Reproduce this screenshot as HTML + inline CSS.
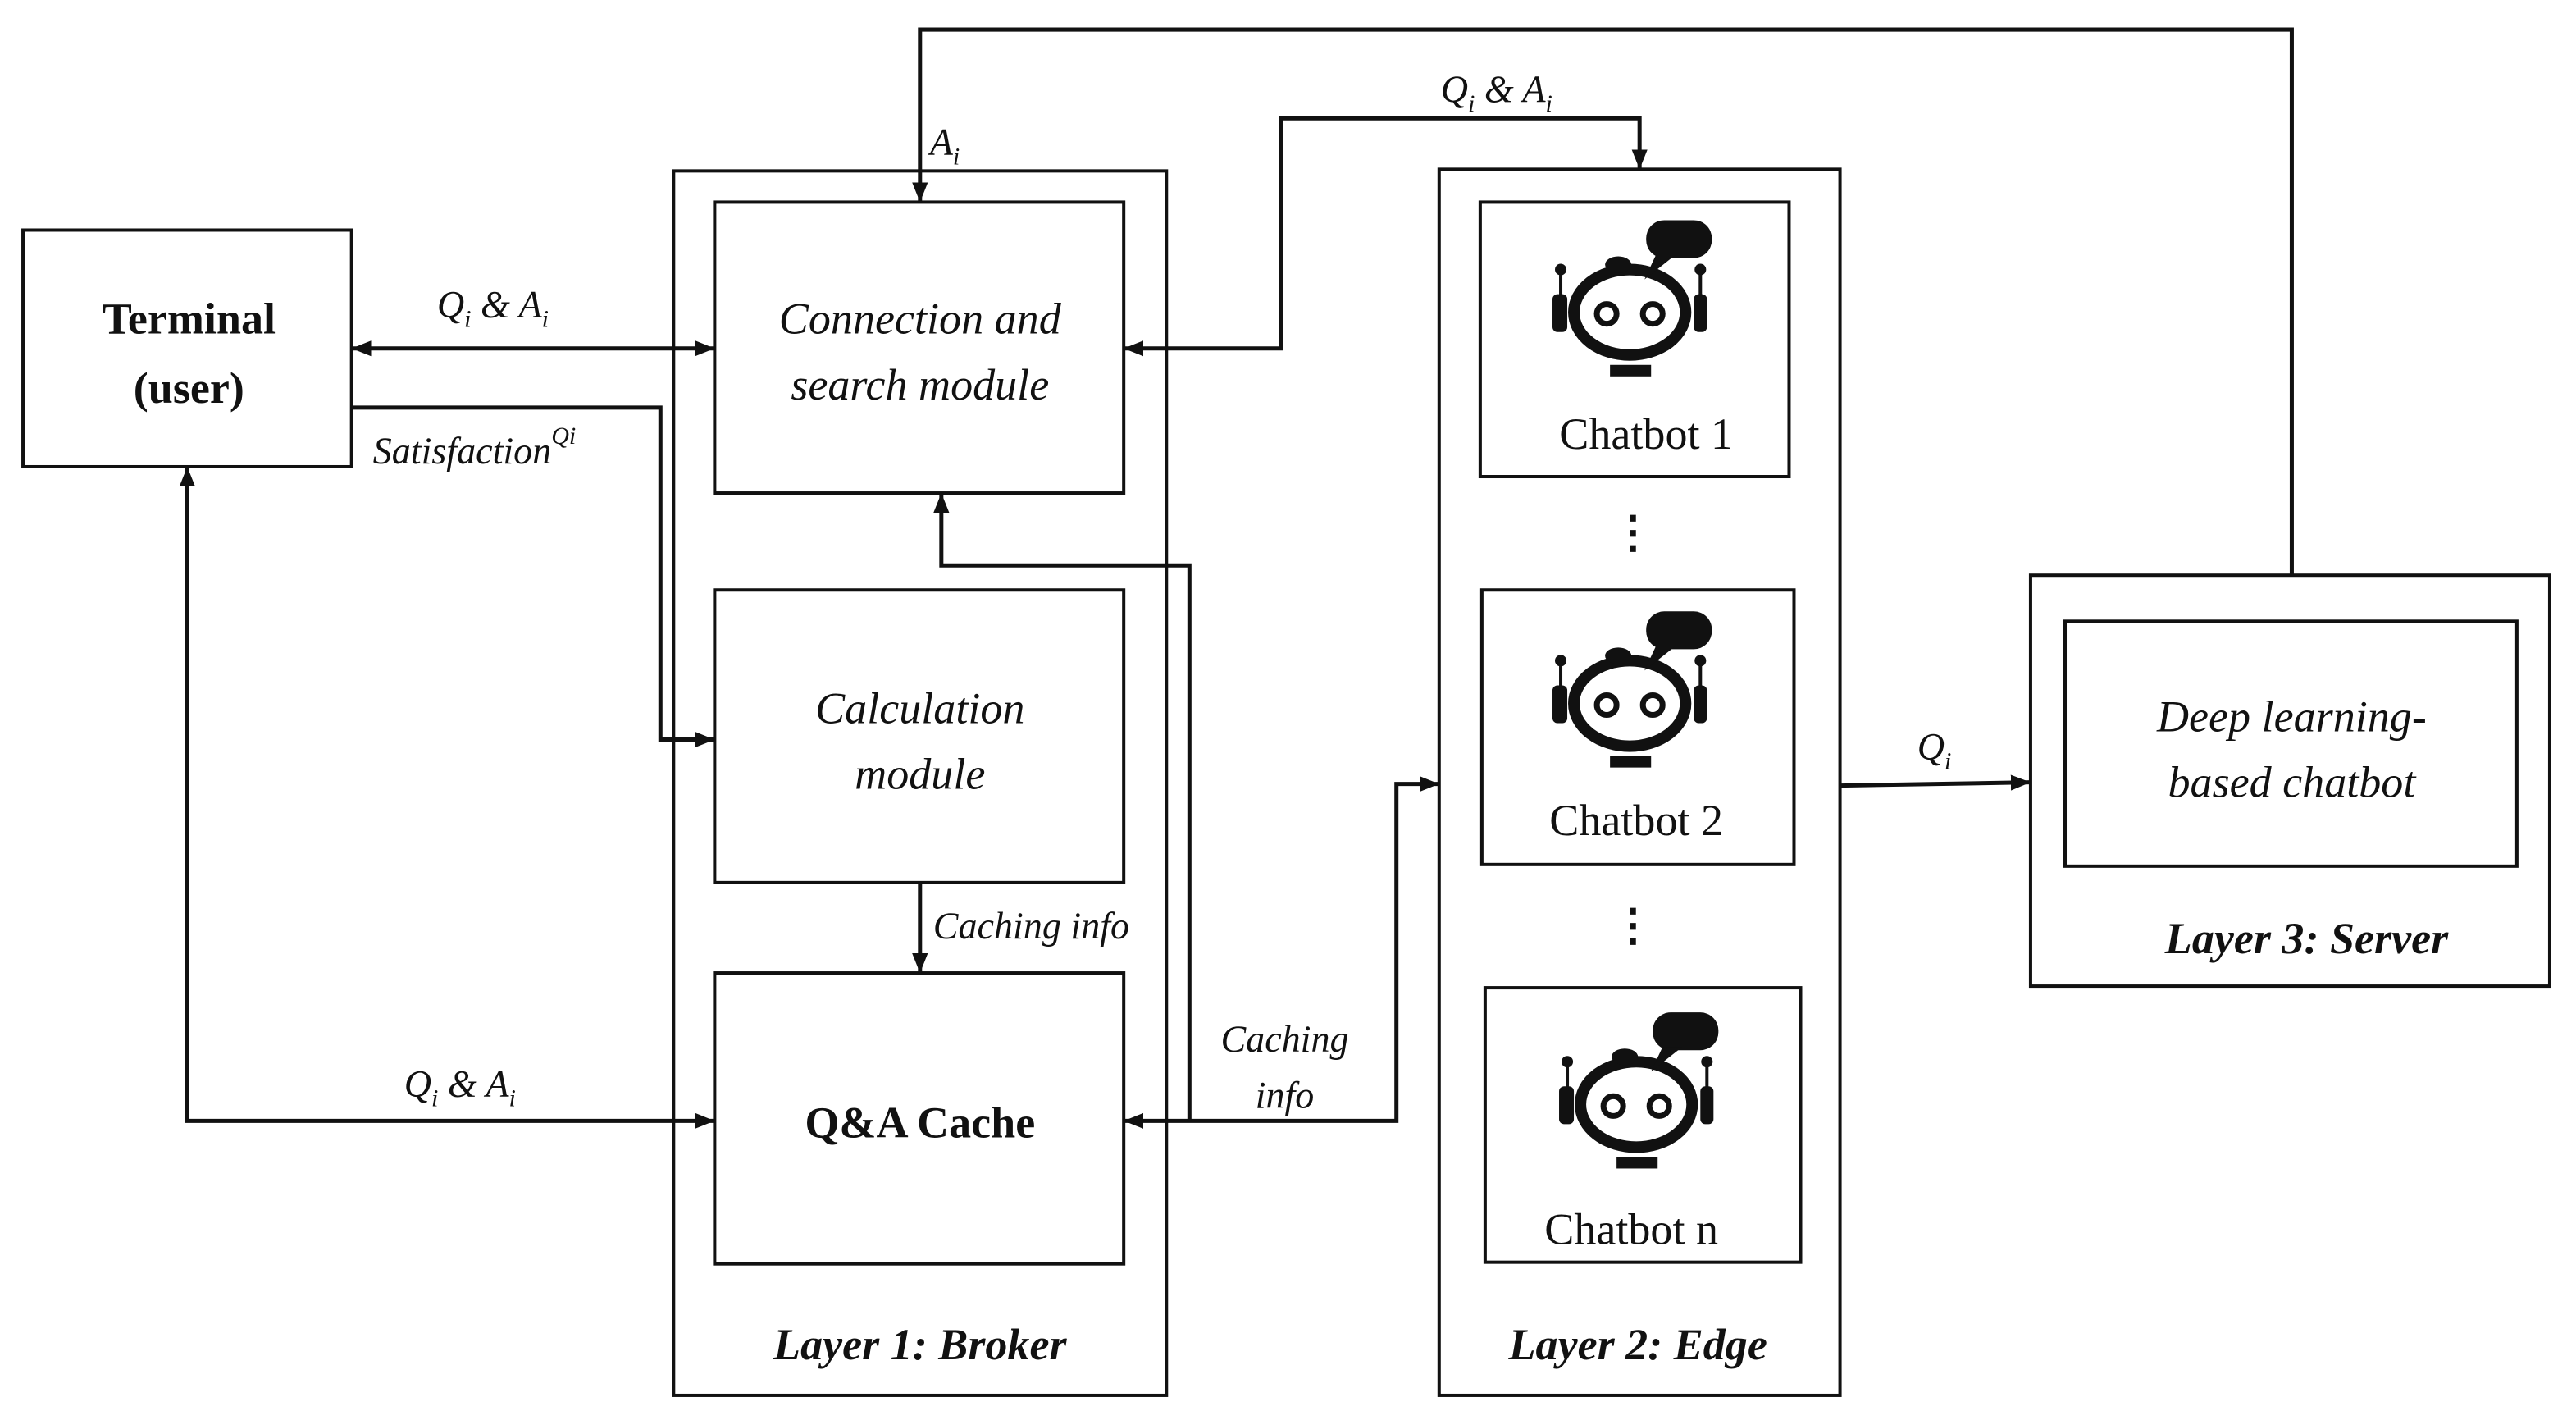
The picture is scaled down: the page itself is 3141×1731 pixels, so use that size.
<!DOCTYPE html>
<html><head><meta charset="utf-8"><style>
html,body{margin:0;padding:0;background:#fff;}
svg{display:block;}
text{font-family:"Liberation Serif","DejaVu Serif",serif;fill:#111;}
.it{font-style:italic;}
.b{font-weight:bold;}
</style></head><body>
<svg width="3141" height="1731" viewBox="0 0 1568 864" preserveAspectRatio="none" xmlns="http://www.w3.org/2000/svg" font-family="'Liberation Serif','DejaVu Serif',serif">
<defs>
<marker id="a" viewBox="0 0 10 10" refX="10" refY="5" markerWidth="12" markerHeight="12" orient="auto-start-reverse" markerUnits="userSpaceOnUse">
<path d="M0,1 L10,5 L0,9 Z" fill="#111"/></marker>
<symbol id="bot" overflow="visible">
<ellipse cx="0" cy="0" rx="34" ry="26" fill="none" stroke="#111" stroke-width="7"/>
<circle cx="-14" cy="1" r="6" fill="none" stroke="#111" stroke-width="3.5"/>
<circle cx="14" cy="1" r="6" fill="none" stroke="#111" stroke-width="3.5"/>
<rect x="10" y="-56" width="40" height="23" rx="11" fill="#111"/>
<polygon points="16,-35 28,-35 9,-20" fill="#111"/>
<rect x="-47" y="-11" width="9" height="23" rx="3" fill="#111"/>
<rect x="39" y="-11" width="8" height="23" rx="3" fill="#111"/>
<line x1="-42" y1="-10" x2="-42" y2="-24" stroke="#111" stroke-width="2"/>
<line x1="43" y1="-10" x2="43" y2="-24" stroke="#111" stroke-width="2"/>
<circle cx="-42" cy="-26" r="3.5" fill="#111"/>
<circle cx="43" cy="-26" r="3.5" fill="#111"/>
<ellipse cx="-7" cy="-29" rx="8" ry="5" fill="#111"/>
<rect x="-12" y="32" width="25" height="7" fill="#111"/>
</symbol>
</defs>
<g fill="none" stroke="#111" stroke-width="2">
<rect x="14" y="140" width="200" height="144"/>
<rect x="410" y="104" width="300" height="745"/>
<rect x="435" y="123" width="249" height="177"/>
<rect x="435" y="359" width="249" height="178"/>
<rect x="435" y="592" width="249" height="177"/>
<rect x="876" y="103" width="244" height="746"/>
<rect x="901" y="123" width="188" height="167"/>
<rect x="902" y="359" width="190" height="167"/>
<rect x="904" y="601" width="192" height="167"/>
<rect x="1236" y="350" width="316" height="250"/>
<rect x="1257" y="378" width="275" height="149"/>
</g>
<g fill="none" stroke="#111" stroke-width="2.5">
<path d="M1395,350 V18 H560 V123" marker-end="url(#a)"/>
<path d="M998,103 V72 H780 V212 H684" marker-start="url(#a)" marker-end="url(#a)"/>
<path d="M214,212 H435" marker-start="url(#a)" marker-end="url(#a)"/>
<path d="M214,248 H402 V450 H435" marker-end="url(#a)"/>
<path d="M114,284 V682 H435" marker-start="url(#a)" marker-end="url(#a)"/>
<path d="M560,537 V592" marker-end="url(#a)"/>
<path d="M876,477 H850 V682 H684" marker-start="url(#a)" marker-end="url(#a)"/>
<path d="M724,682 V344 H573 V300" marker-end="url(#a)"/>
<path d="M1120,478 L1236,476" marker-end="url(#a)"/>
</g>
<use href="#bot" x="992" y="190"/>
<use href="#bot" x="992" y="428"/>
<use href="#bot" x="996" y="672"/>
<g font-size="27" text-anchor="middle">
<text x="115" y="203" class="b">Terminal</text>
<text x="115" y="245" class="b">(user)</text>
<text x="560" y="203" class="it">Connection and</text>
<text x="560" y="243" class="it">search module</text>
<text x="560" y="440" class="it">Calculation</text>
<text x="560" y="480" class="it">module</text>
<text x="560" y="692" class="b">Q&amp;A Cache</text>
<text x="560" y="827" class="b it">Layer 1: Broker</text>
<text x="997" y="827" class="b it">Layer 2: Edge</text>
<text x="1404" y="580" class="b it">Layer 3: Server</text>
<text x="1395" y="445" class="it">Deep learning-</text>
<text x="1395" y="485" class="it">based chatbot</text>
<text x="1002" y="273">Chatbot 1</text>
<text x="996" y="508">Chatbot 2</text>
<text x="993" y="757">Chatbot n</text>
<text x="994" y="333" class="b">⋮</text>
<text x="994" y="572" class="b">⋮</text>
</g>
<g font-size="23" class="it">
<text x="266" y="193">Q<tspan font-size="15" dy="6">i</tspan><tspan dy="-6"> &amp; A</tspan><tspan font-size="15" dy="6">i</tspan></text>
<text x="877" y="62">Q<tspan font-size="15" dy="6">i</tspan><tspan dy="-6"> &amp; A</tspan><tspan font-size="15" dy="6">i</tspan></text>
<text x="246" y="667">Q<tspan font-size="15" dy="6">i</tspan><tspan dy="-6"> &amp; A</tspan><tspan font-size="15" dy="6">i</tspan></text>
<text x="566" y="94">A<tspan font-size="15" dy="6">i</tspan></text>
<text x="1167" y="462">Q<tspan font-size="15" dy="6">i</tspan></text>
<text x="227" y="282">Satisfaction<tspan font-size="15" dy="-12">Qi</tspan></text>
<text x="568" y="571">Caching info</text>
<text x="782" y="640" text-anchor="middle">Caching</text>
<text x="782" y="674" text-anchor="middle">info</text>
</g>
</svg>
</body></html>
